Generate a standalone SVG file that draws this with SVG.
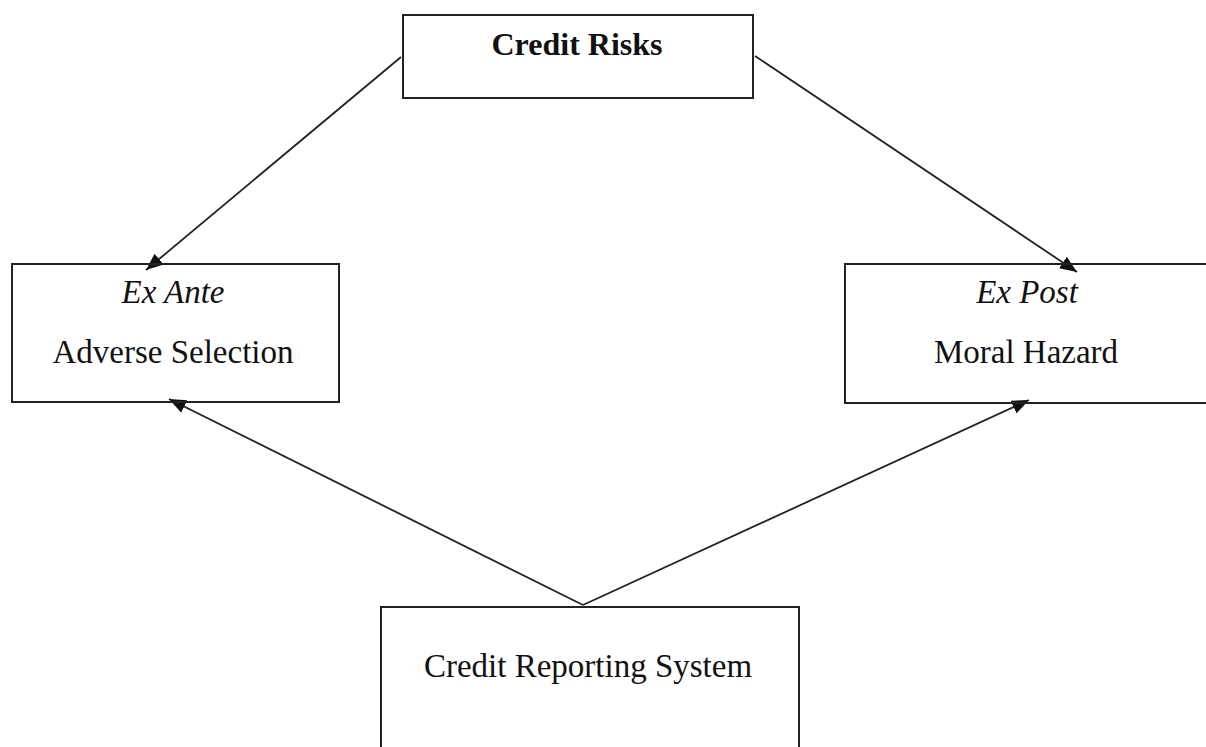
<svg xmlns="http://www.w3.org/2000/svg" width="1206" height="747" viewBox="0 0 1206 747">
<style>
.box{fill:#fff;stroke:#222;stroke-width:2}
.t{font-family:"Liberation Serif","Times New Roman",serif;font-size:33px;fill:#111;text-anchor:middle}
.b{font-weight:bold;font-size:32px}
.i{font-style:italic}
.c{stroke:#222;stroke-width:1.8;fill:none;marker-end:url(#ah)}
</style>
<defs>
<marker id="ah" markerUnits="userSpaceOnUse" markerWidth="18" markerHeight="14" refX="17" refY="7" orient="auto">
<path d="M0,0 L17,7 L0,14 z" fill="#111"/>
</marker>
</defs>
<rect width="1206" height="747" fill="#fff"/>
<g id="connectors">
<line class="c" x1="401" y1="57" x2="146" y2="270"/>
<line class="c" x1="755" y1="56" x2="1077" y2="272"/>
<line class="c" x1="583" y1="605" x2="169" y2="399"/>
<line class="c" x1="583" y1="605" x2="1029" y2="400"/>
</g>
<g id="credit-risks">
<rect class="box" x="403" y="15" width="350" height="83"/>
<text class="t b" x="577" y="55">Credit Risks</text>
</g>
<g id="ex-ante">
<rect class="box" x="12" y="264" width="327" height="138" style="fill:none"/>
<text class="t i" x="173" y="303">Ex Ante</text>
<text class="t" x="173" y="363">Adverse Selection</text>
</g>
<g id="ex-post">
<rect class="box" x="845" y="264" width="370" height="139" style="fill:none"/>
<text class="t i" x="1027" y="303">Ex Post</text>
<text class="t" x="1026" y="363">Moral Hazard</text>
</g>
<g id="credit-reporting">
<rect class="box" x="381" y="607" width="418" height="160"/>
<text class="t" x="588" y="677">Credit Reporting System</text>
</g>
</svg>
